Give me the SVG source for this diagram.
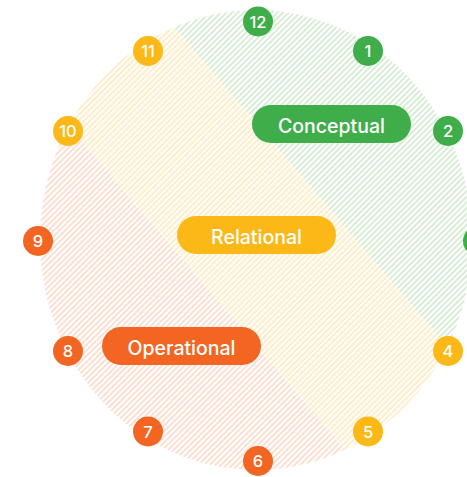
<svg xmlns="http://www.w3.org/2000/svg" width="467" height="477" viewBox="0 0 467 477">
  <defs>
    <pattern id="hatchG" patternUnits="userSpaceOnUse" width="4" height="4" patternTransform="rotate(45)">
      <rect width="4" height="4" fill="#ffffff"/>
      <line x1="1" y1="0" x2="1" y2="4" stroke="#d9edd6" stroke-width="2"/>
    </pattern>
    <pattern id="hatchY" patternUnits="userSpaceOnUse" width="4" height="4" patternTransform="rotate(45)">
      <rect width="4" height="4" fill="#ffffff"/>
      <line x1="1" y1="0" x2="1" y2="4" stroke="#feedc6" stroke-width="2"/>
    </pattern>
    <pattern id="hatchR" patternUnits="userSpaceOnUse" width="4" height="4" patternTransform="rotate(45)">
      <rect width="4" height="4" fill="#ffffff"/>
      <line x1="1" y1="0" x2="1" y2="4" stroke="#fadfd2" stroke-width="2"/>
    </pattern>
    <clipPath id="disc">
      <ellipse cx="256" cy="240" rx="216" ry="230"/>
    </clipPath>
  </defs>
  <style>
    .pill-text { font-family: Inter, "Noto Sans", "Liberation Sans", sans-serif; font-size: 19.5px; font-weight: 500; fill: #ffffff; text-anchor: middle; }
    .num { font-family: Inter, "Noto Sans", "Liberation Sans", sans-serif; font-size: 16.5px; font-weight: 500; fill: #ffffff; text-anchor: middle; }
    .green { fill: #40ad4b; }
    .yellow { fill: #fbb817; }
    .orange { fill: #f26522; }
  </style>

  <g id="regions" clip-path="url(#disc)">
    <polygon id="region-conceptual" points="100,-59.3 550,467 600,-100" fill="url(#hatchG)"/>
    <polygon id="region-relational" points="100,-59.3 550,467 450,572.4 -50,-12.6" fill="url(#hatchY)"/>
    <polygon id="region-operational" points="-50,-12.6 450,572.4 -100,600" fill="url(#hatchR)"/>
  </g>

  <g id="connectors"></g>

  <g id="label-conceptual">
    <rect class="green" x="252" y="105" width="159" height="38" rx="19"/>
    <text class="pill-text" x="331.5" y="133">Conceptual</text>
  </g>
  <g id="label-relational">
    <rect class="yellow" x="177" y="216" width="159" height="38" rx="19"/>
    <text class="pill-text" x="256.5" y="244">Relational</text>
  </g>
  <g id="label-operational">
    <rect class="orange" x="102" y="327" width="159" height="38" rx="19"/>
    <text class="pill-text" x="181.5" y="355">Operational</text>
  </g>

  <g id="n12"><circle class="green" cx="258" cy="21.5" r="15"/><text class="num" x="258" y="27.5">12</text></g>
  <g id="n1"><circle class="green" cx="368" cy="51" r="15"/><text class="num" x="368" y="57">1</text></g>
  <g id="n2"><circle class="green" cx="448" cy="131" r="15"/><text class="num" x="448" y="137">2</text></g>
  <g id="n3"><circle class="green" cx="478" cy="241" r="15"/></g>
  <g id="n4"><circle class="yellow" cx="448" cy="351" r="15"/><text class="num" x="448" y="357">4</text></g>
  <g id="n5"><circle class="yellow" cx="368" cy="431.5" r="15"/><text class="num" x="368" y="437.5">5</text></g>
  <g id="n6"><circle class="orange" cx="258" cy="461" r="15"/><text class="num" x="258" y="467">6</text></g>
  <g id="n7"><circle class="orange" cx="148" cy="431.5" r="15"/><text class="num" x="148" y="437.5">7</text></g>
  <g id="n8"><circle class="orange" cx="68" cy="351" r="15"/><text class="num" x="68" y="357">8</text></g>
  <g id="n9"><circle class="orange" cx="38" cy="241" r="15"/><text class="num" x="38" y="247">9</text></g>
  <g id="n10"><circle class="yellow" cx="68" cy="131" r="15"/><text class="num" x="68" y="137">10</text></g>
  <g id="n11"><circle class="yellow" cx="148" cy="51" r="15"/><text class="num" x="148" y="57">11</text></g>
</svg>
